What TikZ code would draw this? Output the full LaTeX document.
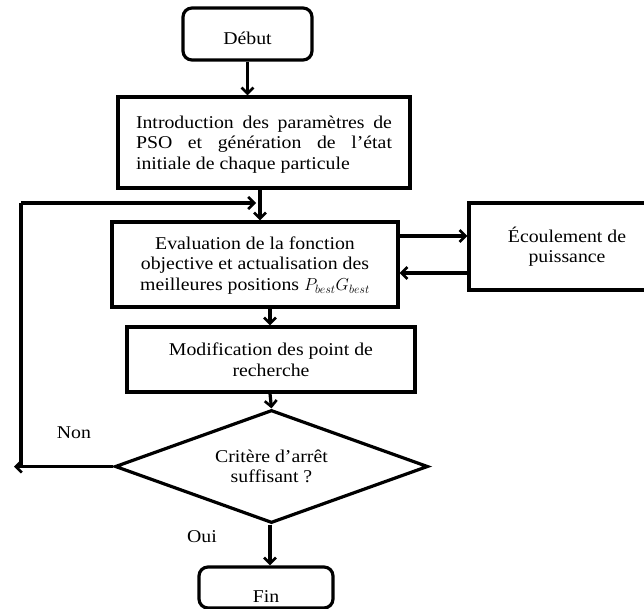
\documentclass[tikz,border=0pt]{standalone}
\usepackage{fontspec}
\setmainfont[FakeStretch=1.1]{Liberation Serif}
\usetikzlibrary{arrows.meta,shapes.geometric}

\newcommand{\txt}{\fontsize{18}{20.5}\selectfont}
\newcommand{\lowered}[2]{\raisebox{-#1}[\height][\depth]{#2}}

\begin{document}
\begin{tikzpicture}[x=1pt,y=-1pt,
  every node/.style={font=\txt},
  box/.style={draw,line width=3.2pt,rectangle,inner sep=0pt,align=center},
  termbox/.style={box,rounded corners=9pt},
  decision/.style={draw,line width=3.2pt,diamond,shape aspect=2.77,inner sep=0pt,align=center},
  flow/.style={line width=3.2pt,-{Straight Barb[length=6pt,width=12pt,line width=2.6pt]}},
  plain/.style={line width=3.2pt},
  tag/.style={inner sep=0pt}
]
\useasboundingbox (0,0) rectangle (644,609);
\begin{scope}
\clip (0,0) rectangle (644,609);

% process boxes
\node[termbox,minimum width=129pt,minimum height=52pt] (debut) at (247.5,34) {\lowered{4pt}{Début}};
\node[box,minimum width=292pt,minimum height=91pt] (intro) at (264,142.5)
  {\lowered{2pt}{\parbox{256pt}{\txt\hyphenpenalty=10000
   Introduction des paramètres de\linebreak PSO et génération de l’état\linebreak initiale de chaque particule}}};
\node[box,minimum width=286pt,minimum height=85pt] (eval) at (255,264.5)
  {\lowered{1pt}{\parbox{280pt}{\centering\txt Evaluation de la fonction\\ objective et actualisation des\\ meilleures positions $P_{best}G_{best}$}}};
\node[box,minimum width=196pt,minimum height=87pt] (ecoul) at (567,246.5)
  {\parbox{190pt}{\centering\txt Écoulement de\\ puissance}};
\node[box,minimum width=288pt,minimum height=65pt] (modif) at (271,359.5)
  {\parbox{280pt}{\centering\txt Modification des point de\\ recherche}};
\node[decision,minimum width=313pt,minimum height=113pt] (dia) at (271.5,466.5)
  {\parbox{140pt}{\centering\txt Critère d’arrêt\\ suffisant ?}};
\node[termbox,minimum width=134pt,minimum height=41pt] (fin) at (266,587.5) {\lowered{9pt}{Fin}};

% branch labels
\node[tag] (non) at (74,433) {Non};
\node[tag] (oui) at (202,537) {Oui};

% helper points of the connectors
\coordinate (c1) at (260,203);
\coordinate (c2) at (270,0);
\coordinate (lb) at (21,466.5);
\coordinate (lt) at (21,203);
\coordinate (tipl) at (14,466.5);
\coordinate (tipj) at (256,203);
\coordinate (r1) at (0,236);
\coordinate (r2) at (0,273);

% connectors
\draw[flow] (debut.south) -- (intro.north -| debut.south);
\draw[flow] (intro.south -| c1) -- (eval.north -| c1);
\draw[flow] (eval.east |- r1) -- (ecoul.west |- r1);
\draw[flow] (ecoul.west |- r2) -- (eval.east |- r2);
\draw[flow] (eval.south -| c2) -- (modif.north -| c2);
\draw[flow] (modif.south -| c2) -- (dia.north);
\draw[flow] (dia.south -| c2) -- (fin.north -| c2);
\draw[flow] (dia.west) -- (tipl);
\draw[plain] ([yshift=1.6pt]lb) -- (lt) -- (c1 -| lb);
\draw[flow] (lt) -- (tipj);
\end{scope}
\end{tikzpicture}
\end{document}
